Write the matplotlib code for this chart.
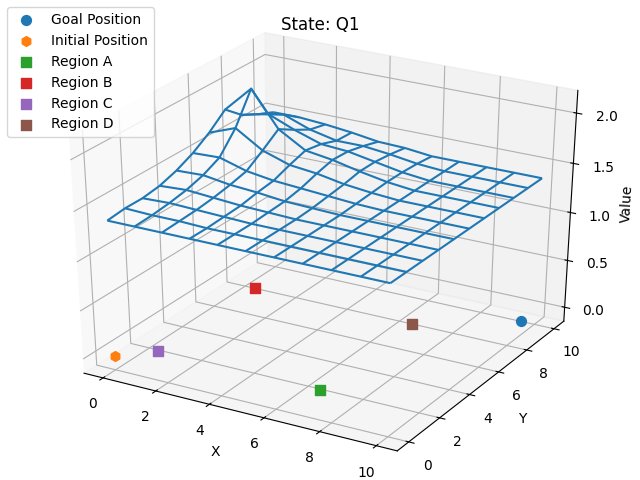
import numpy as np
import matplotlib
matplotlib.use("Agg")
import matplotlib.pyplot as plt

x_vals = list(range(11))
y_vals = list(range(11))
# value per (x row, y column)
values = [
    [1.38, 1.40, 1.40, 1.425, 1.48, 1.56, 1.67, 1.81, 1.665, 1.58, 1.51],
    [1.38, 1.39, 1.41, 1.44, 1.49, 1.57, 1.77, 2.07, 1.73, 1.63, 1.51],
    [1.38, 1.39, 1.40, 1.42, 1.45, 1.49, 1.60, 1.72, 1.62, 1.53, 1.49],
    [1.38, 1.38, 1.39, 1.40, 1.43, 1.45, 1.51, 1.56, 1.53, 1.47, 1.46],
    [1.38, 1.38, 1.38, 1.39, 1.40, 1.43, 1.48, 1.52, 1.51, 1.47, 1.42],
    [1.38, 1.38, 1.38, 1.38, 1.39, 1.41, 1.43, 1.46, 1.46, 1.44, 1.41],
    [1.38, 1.38, 1.38, 1.38, 1.38, 1.39, 1.40, 1.41, 1.41, 1.40, 1.38],
    [1.38, 1.38, 1.38, 1.38, 1.38, 1.38, 1.38, 1.38, 1.38, 1.38, 1.38],
    [1.38, 1.38, 1.38, 1.38, 1.38, 1.38, 1.38, 1.38, 1.38, 1.38, 1.38],
    [1.38, 1.38, 1.38, 1.38, 1.38, 1.38, 1.38, 1.38, 1.38, 1.38, 1.38],
    [1.38, 1.38, 1.38, 1.38, 1.38, 1.38, 1.38, 1.38, 1.38, 1.38, 1.38],
]

goal = (10, 9)
start = (0, 0)
region_a = (7, 1)
region_b = (1, 7)
region_c = (1, 1)
region_d = (7, 7)

fig = plt.figure(figsize=(6.4, 4.8), dpi=100)
ax = fig.add_axes([0.0585, 0.062, 0.885, 0.88], projection='3d')
# let the box stretch with the axes rectangle instead of staying square
ax.apply_aspect = lambda position=None: None
ax.set_box_aspect((1, 1, 1), zoom=1.073)

X, Y = np.meshgrid(x_vals, y_vals, indexing='ij')
ax.plot_wireframe(X, Y, np.array(values), color='C0')

ax.scatter(*goal, 0, color='C0', marker='o', s=50, depthshade=False, label='Goal Position')
ax.scatter(*start, 0, color='C1', marker='h', s=50, depthshade=False, label='Initial Position')
ax.scatter(*region_a, 0, color='C2', marker='s', s=50, depthshade=False, label='Region A')
ax.scatter(*region_b, 0, color='C3', marker='s', s=50, depthshade=False, label='Region B')
ax.scatter(*region_c, 0, color='C4', marker='s', s=50, depthshade=False, label='Region C')
ax.scatter(*region_d, 0, color='C5', marker='s', s=50, depthshade=False, label='Region D')

ax.set_xlabel('X', labelpad=0)
ax.set_ylabel('Y', labelpad=1.5)
ax.set_zlabel('Value', labelpad=1)
ax.tick_params(axis='x', pad=2)
ax.tick_params(axis='y', pad=2.5)
fig.text(0.5, 0.947, 'State: Q1', ha='center', va='center', fontsize=12)
ax.legend(loc='upper left', bbox_to_anchor=(0.011, 0.985), bbox_transform=fig.transFigure, borderaxespad=0)

plt.savefig('out.png', dpi=100)
